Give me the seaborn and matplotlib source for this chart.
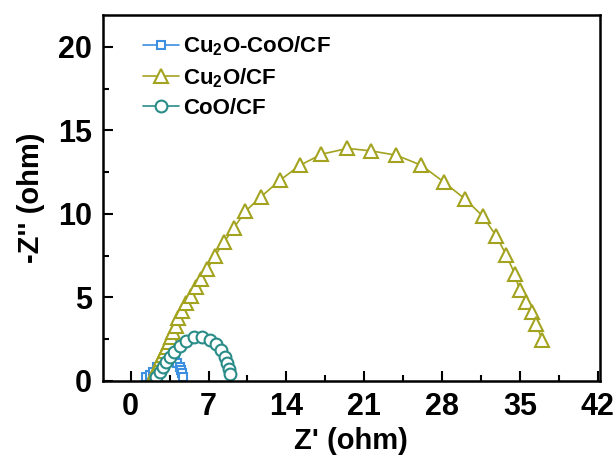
import matplotlib
matplotlib.use("Agg")
import matplotlib.pyplot as plt
import seaborn as sns
from matplotlib.ticker import MultipleLocator

# ---- data ----
cuco_x = [1.4, 1.7, 2.0, 2.4, 2.8, 3.2, 3.6, 3.95, 4.2, 4.4, 4.55, 4.65, 4.7]
cuco_y = [0.2, 0.35, 0.55, 0.8, 1.0, 1.15, 1.25, 1.2, 1.05, 0.85, 0.65, 0.45, 0.25]

cu_x = [2.0, 2.15, 2.3, 2.45, 2.6, 2.75, 2.9, 3.05, 3.25, 3.45, 3.65, 3.85, 4.05,
        4.3, 4.6, 4.95, 5.4, 5.85, 6.29, 6.9, 7.55, 8.39, 9.29, 10.31, 11.69,
        13.4, 15.2, 17.15, 19.49, 21.65, 23.9, 26.14, 28.15, 30.1, 31.68,
        32.89, 33.79, 34.53, 34.98, 35.58, 36.09, 36.48, 36.99]
cu_y = [0.25, 0.45, 0.65, 0.85, 1.05, 1.3, 1.55, 1.8, 2.05, 2.35, 2.65, 2.95, 3.3,
        3.75, 4.2, 4.65, 5.1, 5.6, 6.11, 6.71, 7.45, 8.31, 9.17, 10.15, 11.01,
        12.0, 12.9, 13.57, 13.92, 13.77, 13.51, 12.91, 11.91, 10.87, 9.85,
        8.65, 7.51, 6.41, 5.41, 4.70, 4.10, 3.41, 2.44]

coo_x = [2.3, 2.6, 2.9, 3.2, 3.5, 3.9, 4.4, 5.0, 5.7, 6.4, 7.1, 7.7, 8.15, 8.45, 8.65, 8.8, 8.9]
coo_y = [0.2, 0.5, 0.8, 1.1, 1.4, 1.75, 2.1, 2.4, 2.6, 2.6, 2.45, 2.2, 1.85, 1.45, 1.05, 0.7, 0.4]

labels = ["Cu$_2$O-CoO/CF", "Cu$_2$O/CF", "CoO/CF"]
colors = ["#3D8FE0", "#A3A320", "#2A8C88"]

sns.set_style("ticks")
plt.rcParams['font.family'] = ['Liberation Sans', 'DejaVu Sans']
plt.rcParams['font.weight'] = 'bold'
for k in ['text.color', 'axes.labelcolor', 'xtick.color', 'ytick.color', 'axes.edgecolor']:
    plt.rcParams[k] = 'black'
plt.rcParams['mathtext.fontset'] = 'custom'
plt.rcParams['mathtext.rm'] = 'Liberation Sans:bold'
plt.rcParams['mathtext.it'] = 'Liberation Sans:bold'
plt.rcParams['mathtext.bf'] = 'Liberation Sans:bold'
plt.rcParams['mathtext.default'] = 'rm'

fig = plt.figure(figsize=(6.16, 4.61), dpi=100)
ax = fig.add_axes([0.167, 0.174, 0.807, 0.793])

sns.lineplot(x=cuco_x, y=cuco_y, sort=False, ax=ax, color=colors[0], lw=1.2,
             marker='s', markersize=6, markerfacecolor='white',
             markeredgecolor=colors[0], markeredgewidth=1.5, label=labels[0])
sns.lineplot(x=cu_x, y=cu_y, sort=False, ax=ax, color=colors[1], lw=1.2,
             marker='^', markersize=10, markerfacecolor='white',
             markeredgecolor=colors[1], markeredgewidth=1.5, label=labels[1])
sns.lineplot(x=coo_x, y=coo_y, sort=False, ax=ax, color=colors[2], lw=1.2,
             marker='o', markersize=8.5, markerfacecolor='white',
             markeredgecolor=colors[2], markeredgewidth=1.5, label=labels[2])

ax.set_xlim(-2.5, 42.2)
ax.set_ylim(0, 21.9)
ax.xaxis.set_major_locator(MultipleLocator(7))
ax.xaxis.set_minor_locator(MultipleLocator(3.5))
ax.yaxis.set_major_locator(MultipleLocator(5))
ax.yaxis.set_minor_locator(MultipleLocator(2.5))
ax.tick_params(which='both', direction='in', width=1.5, top=False, right=False)
ax.tick_params(which='major', length=7, labelsize=22, pad=8)
ax.tick_params(which='minor', length=4)
for lab in ax.get_xticklabels() + ax.get_yticklabels():
    lab.set_fontweight('bold')
for s in ax.spines.values():
    s.set_linewidth(1.8)
    s.set_visible(True)

ax.set_xlabel("Z' (ohm)", fontsize=21, fontweight='bold', labelpad=4)
ax.set_ylabel("-Z'' (ohm)", fontsize=21, fontweight='bold', labelpad=9)

leg = ax.legend(loc='upper left', frameon=False, fontsize=16, handlelength=1.6,
                handletextpad=0.2, labelspacing=0.35, borderaxespad=0.4,
                bbox_to_anchor=(0.045, 0.995))
for t in leg.get_texts():
    t.set_fontweight('bold')

fig.savefig("out.png", dpi=100)
